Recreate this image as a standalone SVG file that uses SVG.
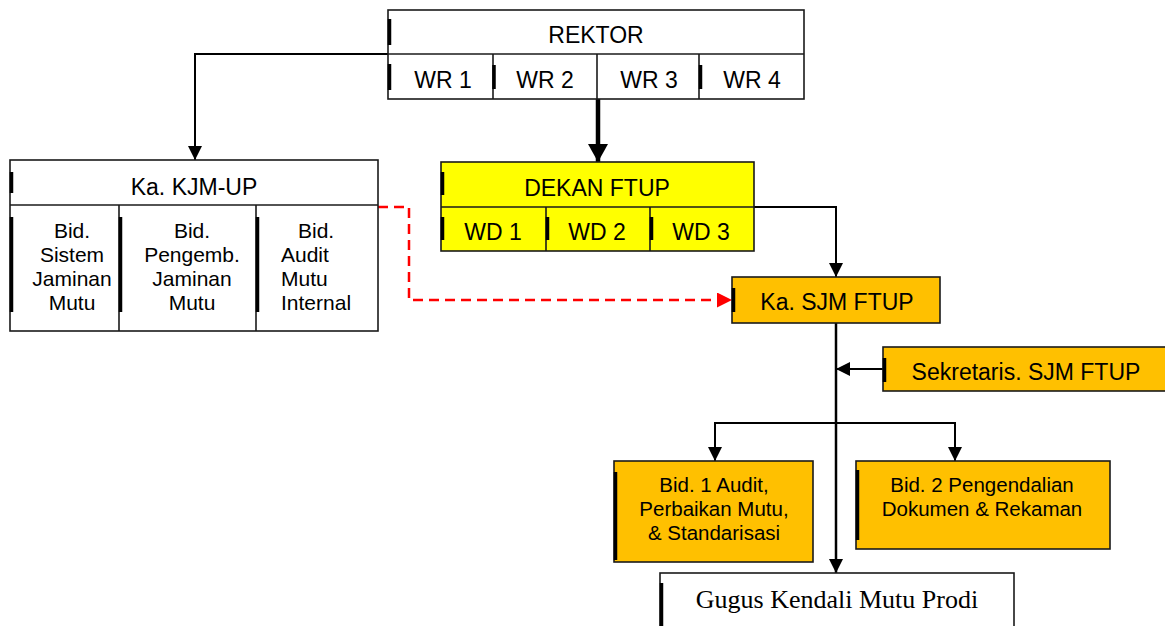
<svg xmlns="http://www.w3.org/2000/svg" width="1165" height="626" viewBox="0 0 1165 626">
<style>
.bx{stroke:#1a1a1a;stroke-width:1.6}
.w{fill:#ffffff}
.y{fill:#ffff00}
.o{fill:#ffc000}
.tk{stroke:#000;stroke-width:3.5;fill:none}
.t{font-family:"Liberation Sans",Arial,sans-serif;fill:#000}
.t23{font-size:23px;text-anchor:middle}
.t21{font-size:21px}
.t20{font-size:20.5px;text-anchor:middle}
.serif{font-family:"Liberation Serif","Times New Roman",serif;font-size:26px;text-anchor:middle;fill:#000}
.ln{stroke:#000;stroke-width:2;fill:none}
.red{stroke:#ff0000;stroke-width:2.5;fill:none;stroke-dasharray:10 6}
</style>
<defs>
<marker id="ah" markerUnits="userSpaceOnUse" viewBox="0 0 14 14" refX="14" refY="7" markerWidth="14" markerHeight="14" orient="auto"><path d="M0,0 L14,7 L0,14 Z" fill="#000"/></marker>
<marker id="ahb" markerUnits="userSpaceOnUse" viewBox="0 0 18 20" refX="18" refY="10" markerWidth="18" markerHeight="20" orient="auto"><path d="M0,0 L18,10 L0,20 Z" fill="#000"/></marker>
<marker id="ahr" markerUnits="userSpaceOnUse" viewBox="0 0 15 15" refX="15" refY="7.5" markerWidth="15" markerHeight="15" orient="auto"><path d="M0,0 L15,7.5 L0,15 Z" fill="#ff0000"/></marker>
</defs>

<g id="connectors">
<path class="ln" d="M388,54 H195 V160" marker-end="url(#ah)"/>
<path d="M598,54 V162" stroke="#000" stroke-width="4.5" fill="none" marker-end="url(#ahb)"/>
<path class="ln" d="M754,207 H836 V277" marker-end="url(#ah)"/>
<path class="red" d="M378,207 H409 V300 H732" marker-end="url(#ahr)"/>
<path d="M836,323 V573" stroke="#000" stroke-width="2.5" fill="none" marker-end="url(#ah)"/>
<path class="ln" d="M883,369 H836" marker-end="url(#ah)"/>
<path class="ln" d="M836,423 H715 V461" marker-end="url(#ah)"/>
<path class="ln" d="M836,423 H955 V461" marker-end="url(#ah)"/>
</g>

<g id="rektor">
<rect class="bx w" x="388" y="10" width="416" height="89"/>
<line class="bx" x1="388" y1="54" x2="804" y2="54"/>
<line class="bx" x1="493" y1="54" x2="493" y2="99"/>
<line class="bx" x1="597" y1="54" x2="597" y2="99"/>
<line class="bx" x1="699" y1="54" x2="699" y2="99"/>
<path class="tk" d="M389.5,19 V45 M389.5,64 V90 M494,65 V89 M700.5,65 V89"/>
<text class="t t23" x="596" y="43">REKTOR</text>
<text class="t t23" x="443" y="88">WR 1</text>
<text class="t t23" x="545" y="88">WR 2</text>
<text class="t t23" x="649" y="88">WR 3</text>
<text class="t t23" x="752" y="88">WR 4</text>
</g>

<g id="kjm">
<rect class="bx w" x="10" y="160" width="368" height="171"/>
<line class="bx" x1="10" y1="205" x2="378" y2="205"/>
<line class="bx" x1="119" y1="205" x2="119" y2="331"/>
<line class="bx" x1="256" y1="205" x2="256" y2="331"/>
<path class="tk" d="M11.5,172 V193 M11.5,217 V312 M120.5,217 V312 M257.5,217 V312"/>
<text class="t t23" x="194" y="195">Ka. KJM-UP</text>
<text class="t t21" text-anchor="middle" x="72"><tspan x="72" y="238">Bid.</tspan><tspan x="72" y="262">Sistem</tspan><tspan x="72" y="286">Jaminan</tspan><tspan x="72" y="310">Mutu</tspan></text>
<text class="t t21" text-anchor="middle" x="192"><tspan x="192" y="238">Bid.</tspan><tspan x="192" y="262">Pengemb.</tspan><tspan x="192" y="286">Jaminan</tspan><tspan x="192" y="310">Mutu</tspan></text>
<text class="t t21"><tspan x="298" y="238">Bid.</tspan><tspan x="281" y="262">Audit</tspan><tspan x="281" y="286">Mutu</tspan><tspan x="281" y="310">Internal</tspan></text>
</g>

<g id="dekan">
<rect class="bx y" x="441" y="162" width="313" height="89"/>
<line class="bx" x1="441" y1="207" x2="754" y2="207"/>
<line class="bx" x1="546" y1="207" x2="546" y2="251"/>
<line class="bx" x1="650" y1="207" x2="650" y2="251"/>
<path class="tk" d="M442.5,172 V195 M442.5,217 V240 M547.5,217 V240 M651.5,217 V240"/>
<text class="t t23" x="597" y="196">DEKAN FTUP</text>
<text class="t t23" x="493" y="240">WD 1</text>
<text class="t t23" x="597" y="240">WD 2</text>
<text class="t t23" x="701" y="240">WD 3</text>
</g>

<g id="ka-sjm">
<rect class="bx o" x="732" y="277" width="208" height="46"/>
<path class="tk" d="M733.5,288 V312"/>
<text class="t t23" x="837" y="310">Ka. SJM FTUP</text>
</g>

<g id="sekretaris">
<rect class="bx o" x="883" y="347" width="300" height="44"/>
<path class="tk" d="M884.5,358 V382"/>
<text class="t t23" x="1026" y="380">Sekretaris. SJM FTUP</text>
</g>

<g id="bid1">
<rect class="bx o" x="614" y="461" width="199" height="101"/>
<path class="tk" d="M615.5,472 V560"/>
<text class="t t20"><tspan x="714" y="492">Bid. 1 Audit,</tspan><tspan x="714" y="516">Perbaikan Mutu,</tspan><tspan x="714" y="540">&amp; Standarisasi</tspan></text>
</g>

<g id="bid2">
<rect class="bx o" x="856" y="461" width="254" height="88"/>
<path class="tk" d="M857.5,470 V540"/>
<text class="t t20"><tspan x="982" y="492">Bid. 2 Pengendalian</tspan><tspan x="982" y="516">Dokumen &amp; Rekaman</tspan></text>
</g>

<g id="gugus">
<rect class="bx w" x="660" y="573" width="354" height="70"/>
<path class="tk" d="M661.5,583 V626"/>
<text class="serif" x="837" y="608">Gugus Kendali Mutu Prodi</text>
</g>
</svg>
